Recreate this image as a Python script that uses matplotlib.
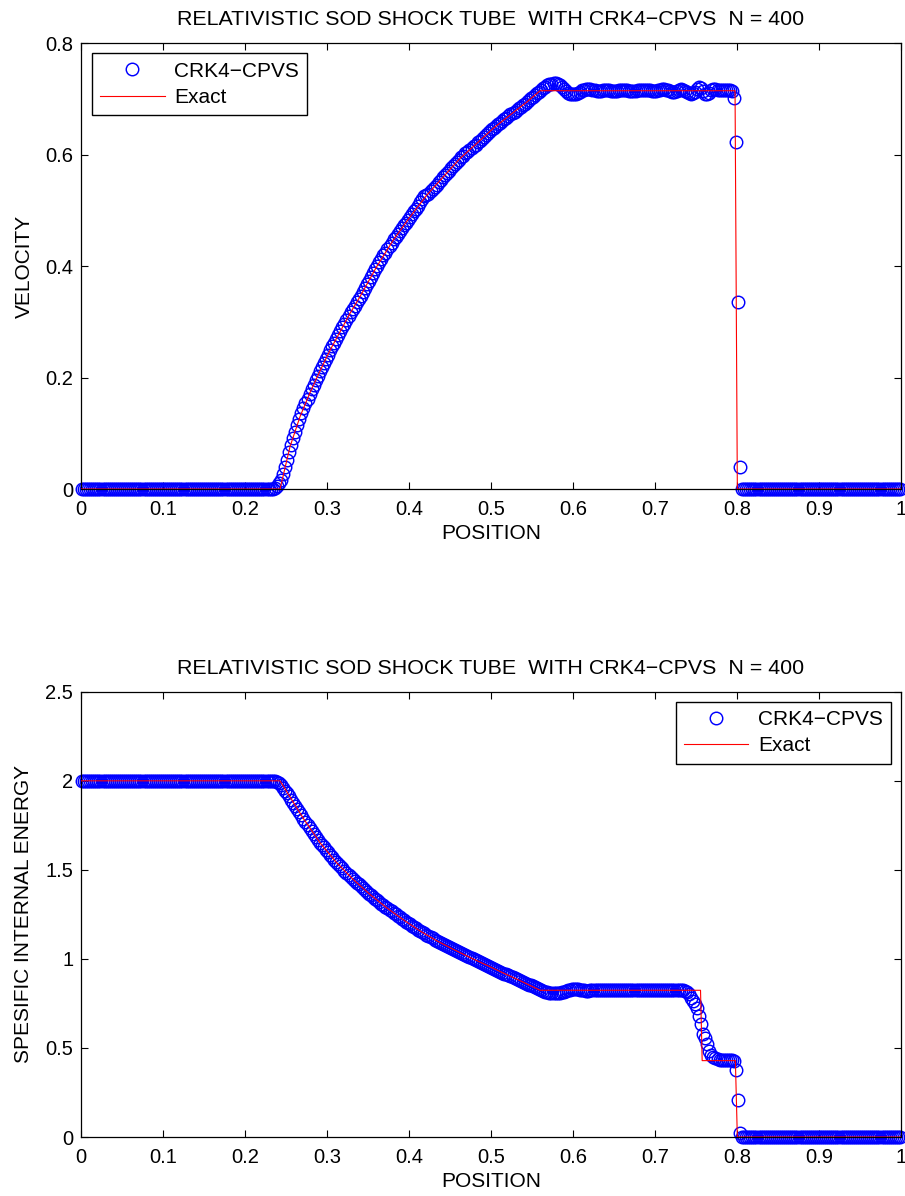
import numpy as np
import matplotlib
matplotlib.use('Agg')
import matplotlib.pyplot as plt

plt.rcParams['font.family'] = ['Liberation Sans', 'DejaVu Sans']

TITLE = 'RELATIVISTIC SOD SHOCK TUBE  WITH CRK4\u2212CPVS  N = 400'
N_CELLS = 400
# cell centres of the 400-cell grid
x_cells = (np.arange(N_CELLS) + 0.5) / N_CELLS

x_ticks = [0, 0.1, 0.2, 0.3, 0.4, 0.5, 0.6, 0.7, 0.8, 0.9, 1]
x_ticklabels = ['0', '0.1', '0.2', '0.3', '0.4', '0.5', '0.6', '0.7', '0.8', '0.9', '1']
v_ticks = [0, 0.2, 0.4, 0.6, 0.8]
v_ticklabels = ['0', '0.2', '0.4', '0.6', '0.8']
e_ticks = [0, 0.5, 1, 1.5, 2, 2.5]
e_ticklabels = ['0', '0.5', '1', '1.5', '2', '2.5']

# ---- exact solution ----
x_exact_v = [0.0, 0.2427, 0.2549, 0.2671, 0.2793, 0.2915, 0.3037, 0.3159, 0.328,
             0.3402, 0.3606, 0.381, 0.4012, 0.4216, 0.4418, 0.4622, 0.4826, 0.5028,
             0.5232, 0.5435, 0.5598, 0.7976, 0.8004, 1.0]
v_exact = [0.0, 0.0, 0.076, 0.130, 0.173, 0.212, 0.249, 0.282, 0.315,
           0.345, 0.399, 0.447, 0.488, 0.527, 0.560, 0.593, 0.620, 0.647,
           0.671, 0.694, 0.7145, 0.7145, 0.0, 0.0]

x_exact_e = [0.0, 0.2427, 0.271, 0.2915, 0.3118, 0.332, 0.3524, 0.3728, 0.393,
             0.4134, 0.4338, 0.454, 0.4744, 0.4947, 0.515, 0.5354, 0.5598,
             0.7555, 0.7575, 0.798, 0.8004, 1.0]
e_exact = [2.0, 2.0, 1.790, 1.652, 1.540, 1.446, 1.362, 1.287, 1.220,
           1.157, 1.102, 1.054, 1.008, 0.965, 0.921, 0.878, 0.824,
           0.824, 0.429, 0.429, 0.0, 0.0]

# ---- CRK4-CPVS numerical values (cells 94..321 for velocity) ----
v_left = [0.0] * 94
v_mid = [0.002, 0.005, 0.010, 0.017, 0.027, 0.039, 0.052, 0.066, 0.079, 0.091,
         0.103, 0.114, 0.125,
         0.136, 0.145, 0.154, 0.162, 0.171,
         0.179, 0.187, 0.195, 0.203, 0.211,
         0.219, 0.226, 0.234, 0.241, 0.249,
         0.256, 0.262, 0.269, 0.276,
         0.283, 0.290, 0.296, 0.303, 0.310,
         0.317, 0.323, 0.329, 0.335, 0.341,
         0.347, 0.354, 0.361, 0.367, 0.374, 0.380, 0.387, 0.394,
         0.400, 0.407, 0.413, 0.419, 0.424, 0.430, 0.436, 0.442,
         0.448, 0.453, 0.458, 0.463, 0.468, 0.473, 0.478, 0.483,
         0.488, 0.493, 0.498, 0.503, 0.508, 0.515, 0.521, 0.525,
         0.527, 0.530, 0.534, 0.538, 0.542, 0.546, 0.550, 0.554, 0.559,
         0.563, 0.567, 0.571, 0.575, 0.579, 0.583, 0.587, 0.591,
         0.595, 0.598, 0.602, 0.605, 0.608, 0.612, 0.615, 0.618,
         0.622, 0.625, 0.628, 0.632, 0.635, 0.638, 0.642, 0.645,
         0.648, 0.651, 0.654, 0.657, 0.660, 0.663, 0.666, 0.669,
         0.672, 0.674, 0.677, 0.680, 0.683, 0.686, 0.688, 0.691,
         0.695, 0.698, 0.701, 0.704, 0.707, 0.710, 0.713,
         0.716, 0.719, 0.722, 0.724, 0.726, 0.727, 0.728, 0.728, 0.727, 0.725,
         0.722, 0.718, 0.714, 0.711, 0.709, 0.708, 0.708, 0.709, 0.711, 0.713,
         0.715, 0.716, 0.717, 0.717, 0.717, 0.716, 0.715,
         0.714, 0.714, 0.714, 0.715, 0.715, 0.715, 0.715, 0.714, 0.714, 0.714,
         0.714, 0.715, 0.715, 0.715, 0.715, 0.715, 0.714, 0.714, 0.714, 0.714,
         0.715, 0.715, 0.715, 0.716, 0.716, 0.715, 0.715, 0.714, 0.714, 0.714,
         0.715, 0.716, 0.717, 0.717, 0.716, 0.715, 0.714, 0.713, 0.713, 0.714,
         0.716, 0.717, 0.716, 0.714, 0.712, 0.710, 0.709, 0.710, 0.713, 0.718,
         0.722, 0.720, 0.714, 0.709, 0.708, 0.711, 0.715, 0.717, 0.717, 0.716,
         0.715, 0.715, 0.715, 0.716, 0.716, 0.715, 0.714,
         0.702, 0.623, 0.335, 0.040]
v_right = [0.0] * (N_CELLS - len(v_left) - len(v_mid))
v_num = v_left + v_mid + v_right

# ---- CRK4-CPVS numerical values (cells 92..321 for energy) ----
e_left = [2.0] * 92
e_mid = [2.000, 1.999, 1.998, 1.994, 1.986, 1.975, 1.961, 1.945, 1.929, 1.912,
         1.895, 1.878, 1.860, 1.842,
         1.825, 1.807,
         1.788, 1.771, 1.754, 1.737, 1.720, 1.704, 1.687, 1.670, 1.653,
         1.640, 1.626, 1.612, 1.598, 1.584, 1.571, 1.557, 1.543,
         1.531, 1.520, 1.508, 1.496, 1.485, 1.473, 1.461, 1.450,
         1.439, 1.428, 1.418, 1.408, 1.398, 1.387, 1.377, 1.367,
         1.357, 1.348, 1.339, 1.329, 1.320, 1.311, 1.302, 1.293,
         1.284, 1.275, 1.267, 1.259, 1.250, 1.242, 1.234, 1.226,
         1.218, 1.210, 1.202, 1.194, 1.187, 1.179, 1.171, 1.164,
         1.156, 1.149, 1.143, 1.136, 1.129, 1.122, 1.116, 1.109, 1.102,
         1.097, 1.091, 1.085, 1.079, 1.073, 1.067, 1.061, 1.055,
         1.049, 1.043, 1.038, 1.032, 1.026, 1.021, 1.015, 1.010,
         1.004, 0.999, 0.993, 0.988, 0.983, 0.978, 0.972, 0.967,
         0.962, 0.956, 0.951, 0.945, 0.940, 0.934, 0.929, 0.923,
         0.918, 0.913, 0.908, 0.902, 0.897, 0.892, 0.887, 0.881,
         0.876, 0.871, 0.866, 0.861, 0.856, 0.851, 0.846, 0.841, 0.836, 0.831,
         0.826, 0.821, 0.816, 0.812, 0.809, 0.807, 0.806, 0.806, 0.807, 0.809,
         0.812, 0.816, 0.820, 0.824, 0.827, 0.829, 0.830, 0.830, 0.829, 0.827,
         0.825, 0.823, 0.822, 0.822, 0.823, 0.825, 0.826,
         0.826, 0.827, 0.827, 0.827, 0.826, 0.826, 0.825, 0.825, 0.825, 0.826,
         0.826, 0.827, 0.827, 0.827, 0.827, 0.826, 0.826, 0.825, 0.825, 0.825,
         0.826, 0.826, 0.827, 0.827, 0.827, 0.826, 0.826, 0.826, 0.825, 0.825,
         0.825, 0.826, 0.826, 0.827, 0.827, 0.827, 0.826, 0.826, 0.825, 0.825,
         0.825, 0.824, 0.823,
         0.822, 0.816, 0.805, 0.782, 0.765, 0.745, 0.725, 0.680, 0.635, 0.580,
         0.555, 0.520, 0.485, 0.462, 0.450, 0.441, 0.437,
         0.435, 0.434, 0.434, 0.434, 0.434, 0.434, 0.432,
         0.425, 0.376, 0.208, 0.024]
e_right = [0.0] * (N_CELLS - len(e_left) - len(e_mid))
e_num = e_left + e_mid + e_right


def draw_panel(ax, y_num, x_ex, y_ex, yticks, yticklabels, ylabel):
    ax.plot(x_cells, y_num, linestyle='none', marker='o', mfc='none', mec='#0000ff',
            ms=9, mew=1.05, clip_on=False, zorder=2, label='CRK4\u2212CPVS')
    ax.plot(x_ex, y_ex, color='#ff0000', lw=0.8, zorder=3, label='Exact')
    ax.set_xlim(0, 1)
    ax.set_ylim(yticks[0], yticks[-1])
    ax.set_xticks(x_ticks)
    ax.set_xticklabels(x_ticklabels)
    ax.set_yticks(yticks)
    ax.set_yticklabels(yticklabels)
    ax.tick_params(direction='in', length=5, width=0.8, top=True, right=True,
                   labelsize=14.5, colors='k')
    ax.tick_params(axis='x', pad=8)
    ax.tick_params(axis='y', pad=5.5)
    for s in ax.spines.values():
        s.set_linewidth(0.9)
    ax.set_title(TITLE, fontsize=15.4, pad=13)
    ax.set_xlabel('POSITION', fontsize=15)
    ax.set_ylabel(ylabel, fontsize=15)
    ax.xaxis.set_label_coords(0.5, -0.078)
    ax.yaxis.set_label_coords(-0.058, 0.5)


fig = plt.figure(figsize=(9.05, 11.96), dpi=100)
ax1 = fig.add_axes([0.0895, 0.5911, 0.9061, 0.3729])
ax2 = fig.add_axes([0.0895, 0.0493, 0.9061, 0.3723])

draw_panel(ax1, v_num, x_exact_v, v_exact, v_ticks, v_ticklabels, 'VELOCITY')
draw_panel(ax2, e_num, x_exact_e, e_exact, e_ticks, e_ticklabels, 'SPESIFIC INTERNAL ENERGY')

leg_kw = dict(fontsize=15, frameon=True, fancybox=False, edgecolor='k', framealpha=1,
              handlelength=3.1, handletextpad=0.45, borderpad=0.4, labelspacing=0.35,
              borderaxespad=0)
leg1 = ax1.legend(loc='upper left', bbox_to_anchor=(0.013, 0.977), **leg_kw)
leg2 = ax2.legend(loc='upper right', bbox_to_anchor=(0.9878, 0.9775), **leg_kw)
for leg in (leg1, leg2):
    leg.get_frame().set_linewidth(1.0)

fig.savefig('out.png', dpi=100)
